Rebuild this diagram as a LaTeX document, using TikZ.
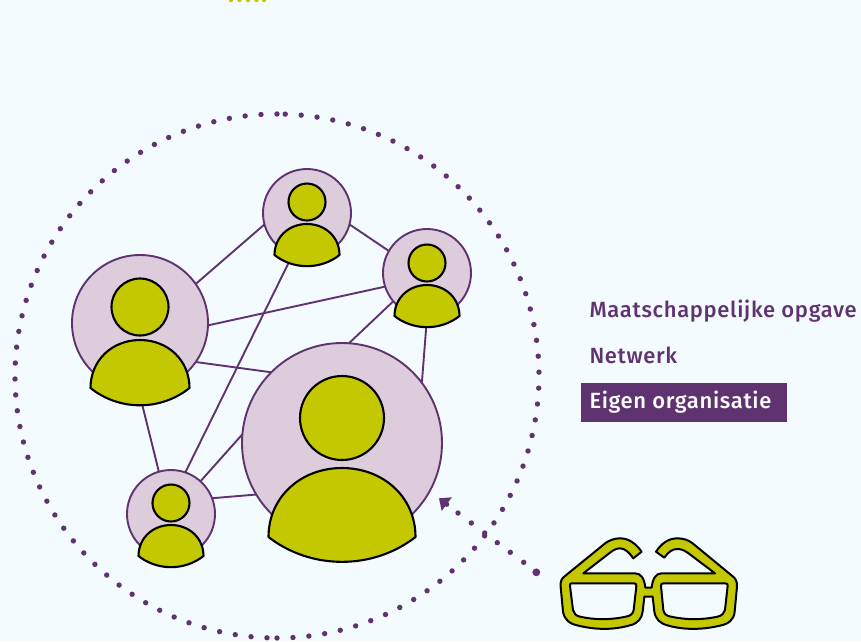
\documentclass[tikz,border=0pt]{standalone}
\usepackage{fontspec}
\setmainfont{Fira Sans}[UprightFont={* Medium},LetterSpace=3]
\usetikzlibrary{backgrounds}
\definecolor{bgc}{HTML}{F3FBFF}
\definecolor{pur}{HTML}{5F3370}
\definecolor{lil}{HTML}{DCCCDC}
\definecolor{yel}{HTML}{C3C800}
\tikzset{
  x=1pt,y=-1pt,
  disc/.style={circle,draw=pur,fill=lil,line width=1.9pt,inner sep=0pt,outer sep=0pt},
  headc/.style={circle,draw=black,fill=yel,line width=2.1pt,inner sep=0pt,outer sep=0pt},
  bodyc/.style={draw=black,fill=yel,line width=2.1pt,line join=round},
  link/.style={draw=pur,line width=1.9pt},
  label/.style={inner sep=0pt,outer sep=0pt,anchor=base west,font=\fontsize{22}{26}\selectfont,text=pur},
  dotc/.style={fill=pur,draw=none},
}
% name, cx, cy, radius, head rise, head r, half width, top dy, corner dy
\newcommand{\person}[8]{%
  \node[disc,minimum size=#3*2pt] (#1) at (#2) {};
  \node[headc,minimum size=#5*2pt] (#1h) at ([yshift=#4 pt]#1.center) {};
  \begin{scope}[shift={(#1.center)}]
    \pgfmathsetmacro{\wd}{#6}\pgfmathsetmacro{\tp}{#7}\pgfmathsetmacro{\cn}{#8}
    \pgfmathsetmacro{\bt}{\cn+(\cn-\tp)*0.36}
    \path[bodyc] (-\wd,\cn)
      .. controls (-\wd,{\tp+0.42*(\cn-\tp)}) and (-0.56*\wd,\tp) .. (0,\tp)
      .. controls (0.56*\wd,\tp) and (\wd,{\tp+0.42*(\cn-\tp)}) .. (\wd,\cn)
      .. controls (0.42*\wd,{\cn+1.333*(\bt-\cn)}) and (-0.42*\wd,{\cn+1.333*(\bt-\cn)}) .. cycle;
  \end{scope}}
\begin{document}
\begin{tikzpicture}
\useasboundingbox (0,0) rectangle (861,641);
\begin{scope}[on background layer]
\fill[bgc] (0,0) rectangle (861,641);
\end{scope}
% top marks
\foreach \x in {231,239.5,248,256.5,264} \fill[yel] (\x,0) circle (2.2);
% dotted ring
\foreach \i in {0,...,51} \fill[dotc] ({277+262*cos(90-\i*3.494)},{376+262*sin(90-\i*3.494)}) circle (2.7);
\foreach \i in {0,...,51} \fill[dotc] ({277+262*cos(92.2+\i*3.486)},{376+262*sin(92.2+\i*3.486)}) circle (2.7);
% people
\person{A}{140,323}{68}{16}{28.5}{49.5}{17}{65}
\person{B}{307,213}{44}{11}{18.5}{32.5}{11}{42}
\person{C}{427,273}{44}{10}{18.5}{32.5}{12}{43}
\person{D}{171,514}{44}{11}{18.5}{32.5}{11}{42}
\person{E}{342,443}{100}{25}{42}{73.5}{25}{94}
% connectors
\begin{scope}[on background layer]
\draw[link] (A.35.5) -- (B.195);
\draw[link] (B.-15.6) -- (C.150);
\draw[link] (A.-2.5) -- (C.198);
\draw[link] (B.251) -- (D.71.6);
\draw[link] (A.-35.3) -- (E.135);
\draw[link] (C.220) -- (E.86);
\draw[link] (C.-90) -- (E.37.7);
\draw[link] (A.-91) -- (D.106);
\draw[link] (D.48) -- (E.175);
\draw[link] (D.21) -- (E.211.8);
\end{scope}
% labels
\node[label] (m) at (589.5,317) {Maatschappelijke opgave};
\node[label] (n) at (589.5,363) {Netwerk};
\fill[pur] (581,383) rectangle (787,422);
\node[label,text=white] (e) at (589.5,408) {Eigen organisatie};
% dotted pointer
\coordinate (pstart) at (536.3,572.3);
\coordinate (ptip) at (439,498.3);
\fill[dotc] (pstart) circle (3.9);
\foreach \p in {(523.7,562.3),(510.3,552.3),(497.3,542.7),(484.7,533),(471.3,523),(458,513)} \fill[dotc] \p circle (2.7);
\fill[dotc] (ptip) -- (452,497.3) -- (446.7,504) -- (441.7,511) -- cycle;
\fill[dotc] (446.7,504.3) circle (2.6);
% glasses
\begin{scope}[shift={(530,480)},x=0.3333pt,y=-0.3333pt]
\path[draw=black,fill=yel,line width=2pt,even odd rule,line join=round]
  (335,215) .. controls (315,188) and (295,175) .. (270,175)
  .. controls (255,175) and (240,180) .. (228,188)
  -- (105,288) .. controls (95,295) and (90,305) .. (92,320)
  -- (99,395) .. controls (103,420) and (120,432) .. (145,437)
  .. controls (200,450) and (250,450) .. (300,436)
  .. controls (325,430) and (335,415) .. (338,395)
  -- (343,350) -- (368,350) -- (373,395)
  .. controls (377,418) and (390,430) .. (412,436)
  .. controls (460,450) and (515,450) .. (570,437)
  .. controls (595,432) and (612,420) .. (614,395)
  -- (621,320) .. controls (622,305) and (617,295) .. (607,288)
  -- (488,190) .. controls (475,180) and (460,175) .. (442,175)
  .. controls (415,175) and (395,190) .. (378,215)
  -- (403,233) .. controls (415,215) and (428,207) .. (442,207)
  .. controls (455,207) and (465,212) .. (473,218)
  -- (555,280) -- (395,280)
  .. controls (378,280) and (368,295) .. (365,323)
  -- (346,323) .. controls (343,295) and (333,280) .. (315,280)
  -- (160,280) -- (240,218)
  .. controls (250,210) and (260,205) .. (270,205)
  .. controls (285,205) and (298,218) .. (310,235)
  -- cycle
  (125,310) -- (312,310) .. controls (318,310) and (320,313) .. (319,320)
  -- (311,390) .. controls (309,402) and (300,408) .. (288,410)
  .. controls (240,420) and (195,420) .. (150,410)
  .. controls (138,407) and (130,400) .. (129,390)
  -- (120,318) .. controls (119,312) and (121,310) .. (125,310) -- cycle
  (400,310) -- (586,310) .. controls (592,310) and (594,313) .. (593,318)
  -- (585,390) .. controls (583,400) and (575,407) .. (563,410)
  .. controls (515,420) and (470,420) .. (423,410)
  .. controls (410,408) and (402,402) .. (400,390)
  -- (393,318) .. controls (392,313) and (395,310) .. (400,310) -- cycle;
\end{scope}
\end{tikzpicture}
\end{document}
